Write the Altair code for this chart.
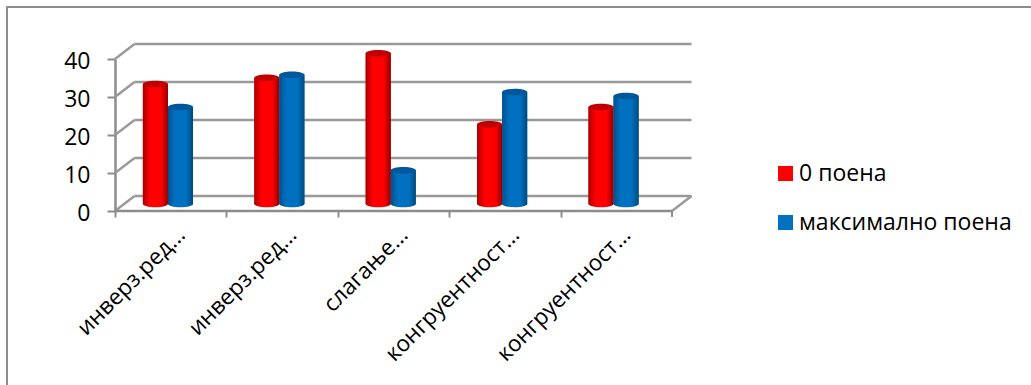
import altair as alt
import pandas as pd

categories = ["инверз.ред…", "инверз.ред… ", "слагање…", "конгруентност…", "конгруентност… "]
series_names = ["0 поена", "максимално поена"]
zero_points = [31.6, 33.2, 39.7, 21.0, 25.5]
max_points = [25.5, 34.0, 8.9, 29.5, 28.4]
levels = [0, 10, 20, 30, 40]

WIDTH, HEIGHT = 557, 152
DEPTH_UNITS = 3.95  # vertical depth of the back wall, in value units
CYL_LIFT = -7
GRID_GREY = "#999999"
AXIS_GREY = "#8c8c8c"

rows = []
for cat, a, b in zip(categories, zero_points, max_points):
    rows.append({"cat": cat, "series": series_names[0], "value": a, "base": 0})
    rows.append({"cat": cat, "series": series_names[1], "value": b, "base": 0})
df = pd.DataFrame(rows)
grid = pd.DataFrame({"level": levels, "back": [v + DEPTH_UNITS for v in levels]})
origin = grid[grid.level == 0]

y_scale = alt.Scale(domain=[0, 40], nice=False)
y_axis = alt.Axis(values=levels, title=None, labelFont="Open Sans", labelFontSize=23,
                  labelColor="#000000", labelPadding=17, labelOffset=2, tickColor=AXIS_GREY,
                  tickWidth=2, tickSize=8, domainColor=AXIS_GREY, domainWidth=2.5,
                  grid=False)

x = alt.X("cat:N", sort=categories, title=None,
          scale=alt.Scale(domain=categories, paddingInner=0.55, paddingOuter=0.275, align=0.455),
          axis=alt.Axis(labelAngle=-45, labelAlign="right", labelBaseline="middle",
                        labelFont="Open Sans", labelFontSize=22.5, labelColor="#000000",
                        labelPadding=14, labelOffset=66, labelLimit=300,
                        tickColor=AXIS_GREY, tickWidth=2, tickSize=6,
                        tickOffset=-53, domain=False, grid=False,
                        labelExpr="trim(datum.label)"))
y = alt.Y("value:Q", scale=y_scale, axis=y_axis)
x_off = alt.XOffset("series:N", sort=series_names)

series_color = alt.Color("series:N", sort=series_names, title=None,
                         scale=alt.Scale(domain=series_names, range=["#ff0000", "#0070c0"]),
                         legend=alt.Legend(orient="none", legendX=659, legendY=103,
                                           symbolType="square", symbolSize=225,
                                           symbolStrokeWidth=0, labelFont="Open Sans",
                                           labelFontSize=23, labelColor="#000000",
                                           labelOffset=2, rowPadding=25, labelLimit=300))


def shaded(edge_l, mid, edge_r):
    return alt.Gradient(gradient="linear", x1=0, x2=1, y1=0, y2=0, stops=[
        alt.GradientStop(color=edge_l, offset=0),
        alt.GradientStop(color=mid, offset=0.28),
        alt.GradientStop(color=mid, offset=0.72),
        alt.GradientStop(color=edge_r, offset=1),
    ])


ELLIPSE = "M -1 0 A 1 0.26 0 1 1 1 0 A 1 0.26 0 1 1 -1 0 Z"
CAP_SIZE = 625

base = alt.Chart(df)
gridbase = alt.Chart(grid)

wall = gridbase.mark_rule(color=GRID_GREY, strokeWidth=2.4).encode(
    y=alt.Y("back:Q", scale=y_scale, axis=y_axis),
    x=alt.value(19.5), x2=alt.value(WIDTH + 19.5))
side = gridbase.mark_rule(color=GRID_GREY, strokeWidth=2.4).encode(
    y=alt.Y("level:Q", scale=y_scale, axis=y_axis),
    y2="back:Q", x=alt.value(0), x2=alt.value(19.5))
floor_edge = alt.Chart(origin).mark_rule(color=GRID_GREY, strokeWidth=2.4).encode(
    y=alt.Y("level:Q", scale=y_scale, axis=y_axis),
    y2="back:Q", x=alt.value(WIDTH), x2=alt.value(WIDTH + 19.5))
front_edge = alt.Chart(origin).mark_rule(color=AXIS_GREY, strokeWidth=2.5).encode(
    y=alt.Y("level:Q", scale=y_scale, axis=y_axis),
    x=alt.value(0), x2=alt.value(WIDTH))
end_tick = alt.Chart(origin).mark_rule(color=AXIS_GREY, strokeWidth=2).encode(
    x=alt.value(WIDTH), y=alt.value(HEIGHT), y2=alt.value(HEIGHT + 6))

# Outer chart frame: the left and top edges
frame_left = alt.Chart(origin).mark_rule(color=AXIS_GREY, strokeWidth=2).encode(
    x=alt.value(-108), y=alt.value(-52), y2=alt.value(326))
frame_top = alt.Chart(origin).mark_rule(color=AXIS_GREY, strokeWidth=2).encode(
    y=alt.value(-52), x=alt.value(-109), x2=alt.value(916))

flat = base.mark_bar(yOffset=CYL_LIFT).encode(x=x, xOffset=x_off, y=y, color=series_color)

layers = [wall, frame_left, frame_top, side, floor_edge, flat]
for name, fill, cap in [
    (series_names[0], shaded("#a80000", "#ff0000", "#900000"), "#c00000"),
    (series_names[1], shaded("#00508c", "#0070c0", "#004a7c"), "#00589a"),
]:
    sub = base.transform_filter(alt.datum.series == name)
    layers.append(sub.mark_bar(fill=fill, yOffset=CYL_LIFT).encode(x=x, xOffset=x_off, y=y))
    layers.append(sub.mark_point(shape=ELLIPSE, size=CAP_SIZE, fill=fill, filled=True, opacity=1,
                                 strokeWidth=0, yOffset=CYL_LIFT).encode(
        x=x, xOffset=x_off, y=alt.Y("base:Q", axis=y_axis, scale=y_scale)))
    layers.append(sub.mark_point(shape=ELLIPSE, size=CAP_SIZE, fill=cap, filled=True, opacity=1,
                                 strokeWidth=0, yOffset=CYL_LIFT).encode(
        x=x, xOffset=x_off, y=y))
layers += [front_edge, end_tick]

chart = alt.layer(*layers).resolve_scale(y="shared").properties(
    width=WIDTH, height=HEIGHT,
    padding={"left": 115, "top": 59, "right": 359, "bottom": 174},
    autosize=alt.AutoSizeParams(type="none"),
    background="#ffffff",
).configure_view(stroke=None)

chart.save("out.html", embed_options={"renderer": "svg", "actions": False})
